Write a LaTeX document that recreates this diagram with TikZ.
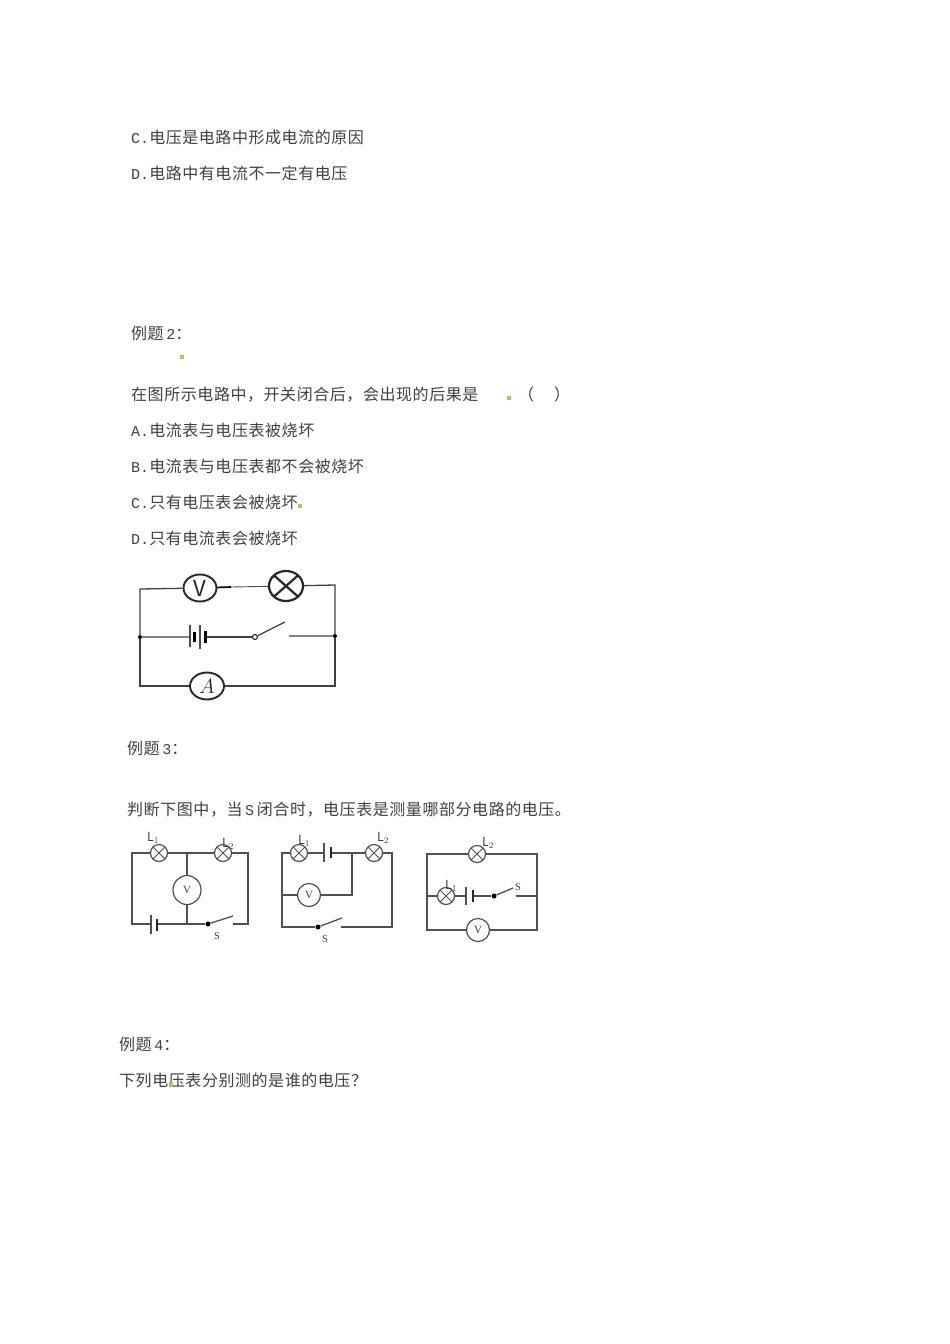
\documentclass[tikz,border=0pt]{standalone}
\usepackage{fontspec}
\setmainfont[LetterSpace=3.5]{Noto Sans CJK SC}
\newfontfamily\lat[Scale=0.94]{Liberation Mono}
\newfontfamily\serifface{Liberation Serif}
\usetikzlibrary{shapes.geometric}
\definecolor{inkgrey}{HTML}{404040}
\definecolor{wiregrey}{HTML}{505050}
\definecolor{speck}{HTML}{C8B860}
\tikzset{
	txt/.style={inner sep=0pt, anchor=base west, text=inkgrey, font=\fontsize{16}{16}\selectfont},
	wire/.style={draw=wiregrey, line width=1.3pt},
	thickwire/.style={draw=black!75, line width=1.3pt},
	meter/.style={ellipse, draw=wiregrey, line width=1.2pt, inner sep=0pt, fill=white, font=\serifface\fontsize{11}{11}\selectfont, text=inkgrey},
	bigmeter/.style={ellipse, draw=black!85, line width=1.9pt, inner sep=0pt, minimum width=33pt, minimum height=27pt, font=\fontsize{22}{22}\selectfont, text=black!85},
	lamp/.style={ellipse, draw=wiregrey, line width=1.2pt, inner sep=0pt, minimum width=17pt, minimum height=17pt, path picture={\draw[wiregrey, line width=1pt] (path picture bounding box.north west) -- (path picture bounding box.south east) (path picture bounding box.north east) -- (path picture bounding box.south west);}},
	biglamp/.style={ellipse, draw=black!85, line width=2.2pt, inner sep=0pt, minimum width=34pt, minimum height=30pt, path picture={\draw[black!85, line width=2.2pt] (path picture bounding box.north west) -- (path picture bounding box.south east) (path picture bounding box.north east) -- (path picture bounding box.south west);}},
	tag/.style={inner sep=0pt, text=inkgrey, font=\fontsize{12.5}{12.5}\selectfont},
	stag/.style={inner sep=0pt, text=inkgrey, font=\serifface\fontsize{10.5}{10.5}\selectfont},
	speckdot/.style={rectangle, fill=speck, inner sep=0pt, minimum width=3.5pt, minimum height=3.5pt},
	joint/.style={circle, fill=black, inner sep=0pt, minimum size=4pt},
	pivot/.style={circle, fill=black, inner sep=0pt, minimum size=5pt}
}
\begin{document}
\begin{tikzpicture}[x=1pt, y=-1pt]
	\useasboundingbox (0,0) rectangle (950,1344);

	\node[txt] at (131,143) (optC) {{\lat C.}电压是电路中形成电流的原因};
	\node[txt] at (131,179) (optD) {{\lat D.}电路中有电流不一定有电压};
	\node[txt] at (131,339) (exTwo) {例题\,{\lat 2}：};
	\node[speckdot] at (182,357) (speckA) {};
	\node[txt] at (131,400) (stemTwo) {在图所示电路中，开关闭合后，会出现的后果是};
	\node[speckdot] at (509,398) (speckB) {};
	\node[txt] at (518,400) (parenL) {（};
	\node[txt] at (554,400) (parenR) {）};
	\node[txt] at (131,436) (twoA) {{\lat A.}电流表与电压表被烧坏};
	\node[txt] at (131,472) (twoB) {{\lat B.}电流表与电压表都不会被烧坏};
	\node[txt] at (131,508) (twoC) {{\lat C.}只有电压表会被烧坏};
	\node[speckdot] at (300,506) (speckC) {};
	\node[txt] at (131,544) (twoD) {{\lat D.}只有电流表会被烧坏};
	\node[txt] at (127,754) (exThree) {例题\,{\lat 3}：};
	\node[txt] at (127,815) (stemThree) {判断下图中，当\,{\lat S}\,闭合时，电压表是测量哪部分电路的电压。};
	\node[txt] at (119,1050) (exFour) {例题\,{\lat 4}：};
	\node[txt] at (119,1086) (stemFour) {下列电压表分别测的是谁的电压？};
	\node[speckdot] at (171,1084) (speckD) {};

	\node[bigmeter] at (200,588) (Va) {$\mathit{V}$};
	\node[biglamp] at (286,586) (La) {};
	\node[bigmeter, minimum width=34pt] at (207,686) (Aa) {$A$};
	\node[joint] at (140,637) (leftA) {};
	\node[joint] at (335,636) (rightA) {};
	\node[circle, draw=black!85, line width=1.1pt, inner sep=0pt, minimum size=5pt] at (255,637) (pivA) {};
	\node[shape=coordinate] at (285,622) (armA) {};
	\node[shape=coordinate] at (289,636) (contA) {};
	\node[shape=coordinate] at (140,589) (nwA) {};
	\node[shape=coordinate] at (335,585) (neA) {};
	\node[shape=coordinate] at (140,686) (swA) {};
	\node[shape=coordinate] at (335,686) (seA) {};
	\node[shape=coordinate] at (190,637) (batA) {};
	\node[shape=coordinate] at (205,637) (batAend) {};
	\node[shape=coordinate] at (231,587) (stubA) {};
	\draw[thickwire] (La) -- (neA) -- (rightA) -- (contA);
	\draw[thickwire] (Va) -- (nwA) -- (leftA) -- (batA);
	\draw[thickwire] (leftA) -- (swA) -- (Aa);
	\draw[thickwire] (Aa) -- (seA) -- (rightA);
	\draw[draw=black, line width=1.7pt] (Va) -- (stubA);
	\draw[wire, line width=0.9pt] (stubA) -- (La);
	\draw[thickwire] (batAend) -- (pivA);
	\draw[thickwire] (pivA) -- (armA);
	\draw[draw=black!70, line width=1.2pt] ([yshift=-10pt]batA) -- ([yshift=12pt]batA);
	\draw[draw=black, line width=3pt] ([xshift=4pt, yshift=-5pt]batA) -- ([xshift=4pt, yshift=5pt]batA);
	\draw[draw=black!70, line width=1.2pt] ([xshift=10pt, yshift=-12pt]batA) -- ([xshift=10pt, yshift=12pt]batA);
	\draw[draw=black, line width=3pt] ([xshift=15pt, yshift=-6pt]batA) -- ([xshift=15pt, yshift=6pt]batA);

	\node[lamp] at (159,853) (Lb1) {};
	\node[lamp] at (223,853) (Lb2) {};
	\node[tag] at (153,838) (Lb1t) {$\mathrm{L}_1$};
	\node[tag] at (228,844) (Lb2t) {$\mathrm{L}_2$};
	\node[meter, minimum width=28pt, minimum height=29pt] at (187,890) (Vb) {V};
	\node[pivot] at (208,924) (pivB) {};
	\node[stag] at (217,936) (Sb) {S};
	\node[shape=coordinate] at (132,853) (nwB) {};
	\node[shape=coordinate] at (248,853) (neB) {};
	\node[shape=coordinate] at (132,924) (swB) {};
	\node[shape=coordinate] at (248,924) (seB) {};
	\node[shape=coordinate] at (187,853) (topB) {};
	\node[shape=coordinate] at (187,924) (botB) {};
	\node[shape=coordinate] at (151,924) (batB) {};
	\node[shape=coordinate] at (157,924) (batBend) {};
	\node[shape=coordinate] at (233,916) (armB) {};
	\node[shape=coordinate] at (233,924) (contB) {};
	\draw[wire] (Lb1) -- (nwB) -- (swB) -- (batB);
	\draw[wire] (Lb1) -- (topB) -- (Lb2);
	\draw[wire] (Lb2) -- (neB) -- (seB) -- (contB);
	\draw[wire] (topB) -- (Vb);
	\draw[wire] (Vb) -- (botB);
	\draw[wire] (batBend) -- (pivB);
	\draw[wire] (pivB) -- (armB);
	\draw[wire] ([yshift=-10pt]batB) -- ([yshift=9pt]batB);
	\draw[draw=black!85, line width=2pt] ([yshift=-7pt]batBend) -- ([yshift=5pt]batBend);

	\node[lamp] at (299,853) (Lc1) {};
	\node[lamp] at (374,853) (Lc2) {};
	\node[tag] at (304,841) (Lc1t) {$\mathrm{L}_1$};
	\node[tag] at (383,838) (Lc2t) {$\mathrm{L}_2$};
	\node[meter, minimum width=23pt, minimum height=23pt] at (309,895) (Vc) {V};
	\node[pivot] at (318,927) (pivC) {};
	\node[stag] at (325,939) (Sc) {S};
	\node[shape=coordinate] at (282,853) (nwC) {};
	\node[shape=coordinate] at (392,853) (neC) {};
	\node[shape=coordinate] at (282,927) (swC) {};
	\node[shape=coordinate] at (392,927) (seC) {};
	\node[shape=coordinate] at (282,895) (midC) {};
	\node[shape=coordinate] at (352,853) (topC) {};
	\node[shape=coordinate] at (352,895) (dropC) {};
	\node[shape=coordinate] at (324,853) (batC) {};
	\node[shape=coordinate] at (331,853) (batCend) {};
	\node[shape=coordinate] at (342,918) (armC) {};
	\node[shape=coordinate] at (341,927) (contC) {};
	\draw[wire] (Lc1) -- (nwC) -- (swC) -- (pivC);
	\draw[wire] (Lc1) -- (batC);
	\draw[wire] (batCend) -- (topC) -- (Lc2);
	\draw[wire] (Lc2) -- (neC) -- (seC) -- (contC);
	\draw[wire] (midC) -- (Vc);
	\draw[wire] (Vc) -- (dropC) -- (topC);
	\draw[wire] (pivC) -- (armC);
	\draw[wire] ([yshift=-9pt]batC) -- ([yshift=10pt]batC);
	\draw[draw=black!85, line width=2pt] ([yshift=-5pt]batCend) -- ([yshift=6pt]batCend);

	\node[lamp] at (477,854) (Ld2) {};
	\node[lamp] at (446,896) (Ld1) {};
	\node[tag] at (488,843) (Ld2t) {$\mathrm{L}_2$};
	\node[tag] at (451,886) (Ld1t) {$\mathrm{L}_1$};
	\node[meter, minimum width=23pt, minimum height=23pt] at (478,930) (Vd) {V};
	\node[pivot] at (494,896) (pivD) {};
	\node[stag] at (518,887) (Sd) {S};
	\node[shape=coordinate] at (427,854) (nwD) {};
	\node[shape=coordinate] at (537,854) (neD) {};
	\node[shape=coordinate] at (427,930) (swD) {};
	\node[shape=coordinate] at (537,930) (seD) {};
	\node[shape=coordinate] at (427,896) (midD) {};
	\node[shape=coordinate] at (537,896) (midDr) {};
	\node[shape=coordinate] at (466,896) (batD) {};
	\node[shape=coordinate] at (473,896) (batDend) {};
	\node[shape=coordinate] at (513,888) (armD) {};
	\node[shape=coordinate] at (516,896) (contD) {};
	\draw[wire] (Ld2) -- (nwD) -- (swD) -- (Vd);
	\draw[wire] (Ld2) -- (neD) -- (seD) -- (Vd);
	\draw[wire] (midD) -- (Ld1);
	\draw[wire] (Ld1) -- (batD);
	\draw[wire] (batDend) -- (pivD);
	\draw[wire] (pivD) -- (armD);
	\draw[wire] (contD) -- (midDr);
	\draw[wire] ([yshift=-9pt]batD) -- ([yshift=9pt]batD);
	\draw[draw=black!85, line width=2pt] ([yshift=-6pt]batDend) -- ([yshift=6pt]batDend);
\end{tikzpicture}
\end{document}
